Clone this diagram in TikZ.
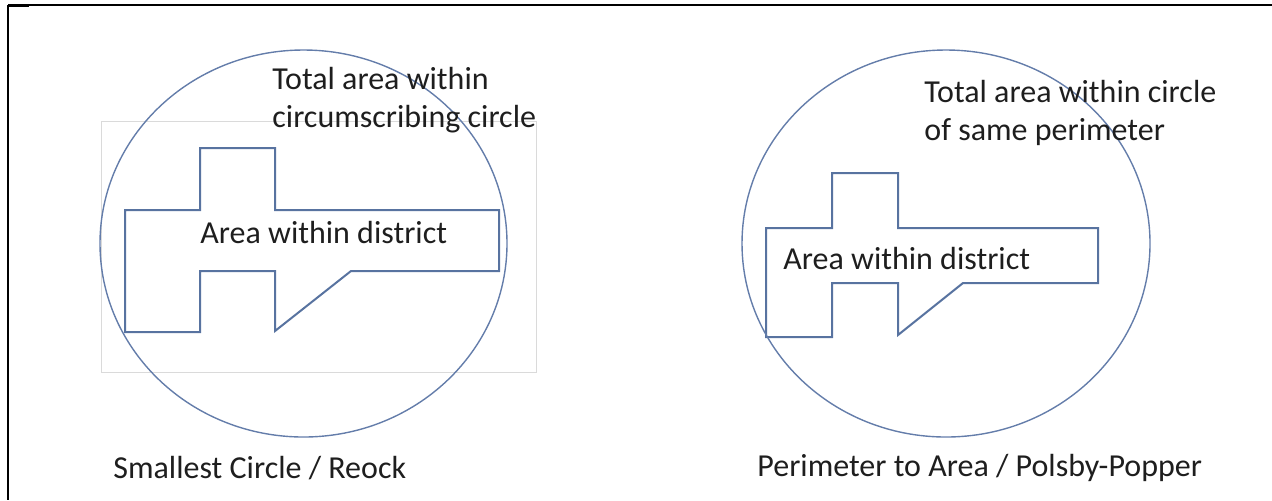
\documentclass[tikz,border=0pt]{standalone}
\usepackage{fontspec}
\setmainfont{Carlito}
\usetikzlibrary{shapes.geometric}
\begin{document}
\begin{tikzpicture}[x=0.5pt,y=-0.5pt,
  frameline/.style={line width=0.75pt,black},
  circ/.style={draw=circblue,line width=0.7pt,ellipse,inner sep=0pt},
  district/.style={draw=distblue,line width=1pt,line join=miter},
  bbox/.style={draw=boxgray,line width=0.5pt},
  lbl/.style={inner sep=0pt,text=txt,font=\fontsize{16}{19}\selectfont}]
\definecolor{circblue}{RGB}{100,125,170}
\definecolor{distblue}{RGB}{88,115,160}
\definecolor{boxgray}{RGB}{218,218,218}
\definecolor{txt}{RGB}{30,30,30}
\useasboundingbox (0,0) rectangle (1272,500);
% frame
\draw[frameline] (8,5) -- (1272,5);
\draw[frameline] (8,5) -- (8,500);
\draw[line width=1.5pt] (8,5.5) -- (29,5.5);
% ---------- left panel ----------
\draw[bbox] (101,121) rectangle (536,372);
\draw[district] (200,148) -- (275,148) -- (275,210) -- (499,210) -- (499,271)
  -- (351,271) -- (275,331) -- (275,271) -- (200,271) -- (200,332)
  -- (125,332) -- (125,210) -- (200,210) -- cycle;
\node[circ,minimum width=203.5pt,minimum height=193.5pt] (c1) at (303.5,243.5) {};
\node[lbl,anchor=base west,align=left] (t1) at (272,127) {Total area within\\circumscribing circle};
\node[lbl,anchor=west] (a1) at (200,232) {Area within district};
\node[lbl,anchor=west] (s1) at (113,468) {Smallest Circle / Reock};
% ---------- right panel ----------
\draw[district] (832,173) -- (898,173) -- (898,228) -- (1098,228) -- (1098,283)
  -- (963,283) -- (898,335) -- (898,283) -- (832,283) -- (832,337)
  -- (766,337) -- (766,228) -- (832,228) -- cycle;
\node[circ,minimum width=204pt,minimum height=193.5pt] (c2) at (946,243.5) {};
\node[lbl,anchor=base west,align=left] (t2) at (924,140) {Total area within circle\\of same perimeter};
\node[lbl,anchor=west] (a2) at (783,258) {Area within district};
\node[lbl,anchor=west] (s2) at (757,468) {Perimeter to Area / Polsby-Popper};
\end{tikzpicture}
\end{document}
